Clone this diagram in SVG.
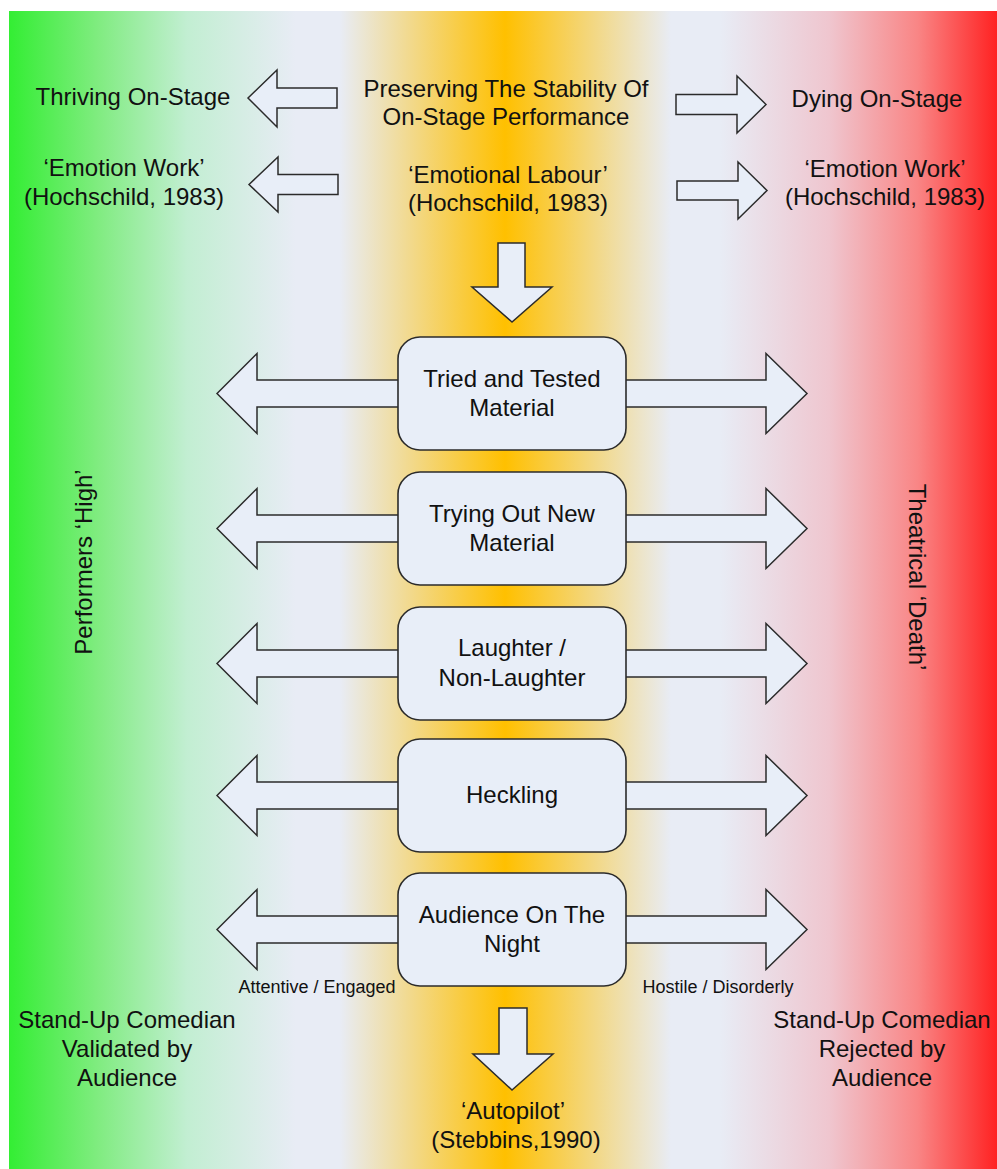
<svg xmlns="http://www.w3.org/2000/svg" width="997" height="1169" viewBox="0 0 997 1169">
<defs>
<linearGradient id="bg" gradientUnits="userSpaceOnUse" x1="9" y1="0" x2="997" y2="0">
<stop offset="0" stop-color="#33ee33"/>
<stop offset="0.09" stop-color="#80ec80"/>
<stop offset="0.18" stop-color="#c2eed2"/>
<stop offset="0.29" stop-color="#e8ecf5"/>
<stop offset="0.335" stop-color="#e8ecf5"/>
<stop offset="0.502" stop-color="#ffc000"/>
<stop offset="0.67" stop-color="#e8ecf5"/>
<stop offset="0.72" stop-color="#e8ecf5"/>
<stop offset="0.83" stop-color="#efc6cf"/>
<stop offset="0.92" stop-color="#f98585"/>
<stop offset="1" stop-color="#ff2222"/>
</linearGradient>
<style>
.t{font-family:"Liberation Sans",Arial,sans-serif;font-size:24px;fill:#111;text-anchor:middle}
.s{font-family:"Liberation Sans",Arial,sans-serif;font-size:18px;fill:#111;text-anchor:middle}
.ar{fill:#e8eef8;stroke:#2b2b2b;stroke-width:1.5;stroke-linejoin:miter}
.bx{fill:#e8eef8;stroke:#2b2b2b;stroke-width:1.6}
</style>
</defs>
<rect x="0" y="0" width="997" height="1169" fill="#ffffff"/>
<rect x="9" y="11" width="988" height="1158" fill="url(#bg)"/>

<g id="connectors">
<path class="ar" d="M248,98 L277,70 L277,88 L337,88 L337,108 L277,108 L277,127 Z"/>
<path class="ar" d="M249,184.5 L278,157 L278,174.5 L338,174.5 L338,194.5 L278,194.5 L278,212 Z"/>
<path class="ar" d="M766,104.5 L737,76 L737,94.5 L676,94.5 L676,114.5 L737,114.5 L737,133 Z"/>
<path class="ar" d="M767,190.5 L738,162 L738,181 L677,181 L677,200 L738,200 L738,219 Z"/>
<path class="ar" d="M512,322 L472,287 L498,287 L498,243 L525,243 L525,287 L552,287 Z"/>
<path class="ar" d="M512,1090 L473,1054 L499,1054 L499,1008 L527,1008 L527,1054 L553,1054 Z"/>
<path class="ar" d="M217,393.5 L257,353.5 L257,380 L766,380 L766,353.5 L807,393.5 L766,433.5 L766,407 L257,407 L257,433.5 Z"/>
<path class="ar" d="M217,528.5 L257,488.5 L257,515 L766,515 L766,488.5 L807,528.5 L766,568.5 L766,542 L257,542 L257,568.5 Z"/>
<path class="ar" d="M217,663.5 L257,623.5 L257,650 L766,650 L766,623.5 L807,663.5 L766,703.5 L766,677 L257,677 L257,703.5 Z"/>
<path class="ar" d="M217,795.5 L257,755.5 L257,782 L766,782 L766,755.5 L807,795.5 L766,835.5 L766,809 L257,809 L257,835.5 Z"/>
<path class="ar" d="M217,929.5 L257,889.5 L257,916 L766,916 L766,889.5 L807,929.5 L766,969.5 L766,943 L257,943 L257,969.5 Z"/>
</g>

<g id="thriving"><text class="t" x="133" y="105">Thriving On-Stage</text></g>
<g id="preserving"><text class="t" x="506" y="97">Preserving The Stability Of</text><text class="t" x="506" y="125">On-Stage Performance</text></g>
<g id="dying"><text class="t" x="877" y="107">Dying On-Stage</text></g>
<g id="emotion-work-left"><text class="t" x="124" y="176">‘Emotion Work’</text><text class="t" x="124" y="205">(Hochschild, 1983)</text></g>
<g id="emotional-labour"><text class="t" x="508" y="183">‘Emotional Labour’</text><text class="t" x="508" y="211">(Hochschild, 1983)</text></g>
<g id="emotion-work-right"><text class="t" x="885" y="177">‘Emotion Work’</text><text class="t" x="885" y="205">(Hochschild, 1983)</text></g>

<g id="tried"><rect class="bx" x="398" y="337" width="228" height="113" rx="22"/><text class="t" x="512" y="387">Tried and Tested</text><text class="t" x="512" y="416">Material</text></g>
<g id="trying"><rect class="bx" x="398" y="472" width="228" height="113" rx="22"/><text class="t" x="512" y="522">Trying Out New</text><text class="t" x="512" y="551">Material</text></g>
<g id="laughter"><rect class="bx" x="398" y="607" width="228" height="113" rx="22"/><text class="t" x="512" y="656">Laughter /</text><text class="t" x="512" y="686">Non-Laughter</text></g>
<g id="heckling"><rect class="bx" x="398" y="739" width="228" height="113" rx="22"/><text class="t" x="512" y="803">Heckling</text></g>
<g id="audience"><rect class="bx" x="398" y="873" width="228" height="113" rx="22"/><text class="t" x="512" y="923">Audience On The</text><text class="t" x="512" y="952">Night</text></g>

<g id="attentive"><text class="s" x="317" y="993">Attentive / Engaged</text></g>
<g id="hostile"><text class="s" x="718" y="993">Hostile / Disorderly</text></g>

<g id="performers-high"><text class="t" transform="translate(92,562) rotate(-90)">Performers ‘High’</text></g>
<g id="theatrical-death"><text class="t" transform="translate(909,577) rotate(90)">Theatrical ‘Death’</text></g>

<g id="validated"><text class="t" x="127" y="1028">Stand-Up Comedian</text><text class="t" x="127" y="1057">Validated by</text><text class="t" x="127" y="1086">Audience</text></g>
<g id="rejected"><text class="t" x="882" y="1028">Stand-Up Comedian</text><text class="t" x="882" y="1057">Rejected by</text><text class="t" x="882" y="1086">Audience</text></g>
<g id="autopilot"><text class="t" x="513" y="1119">‘Autopilot’</text><text class="t" x="516" y="1148">(Stebbins,1990)</text></g>
</svg>
